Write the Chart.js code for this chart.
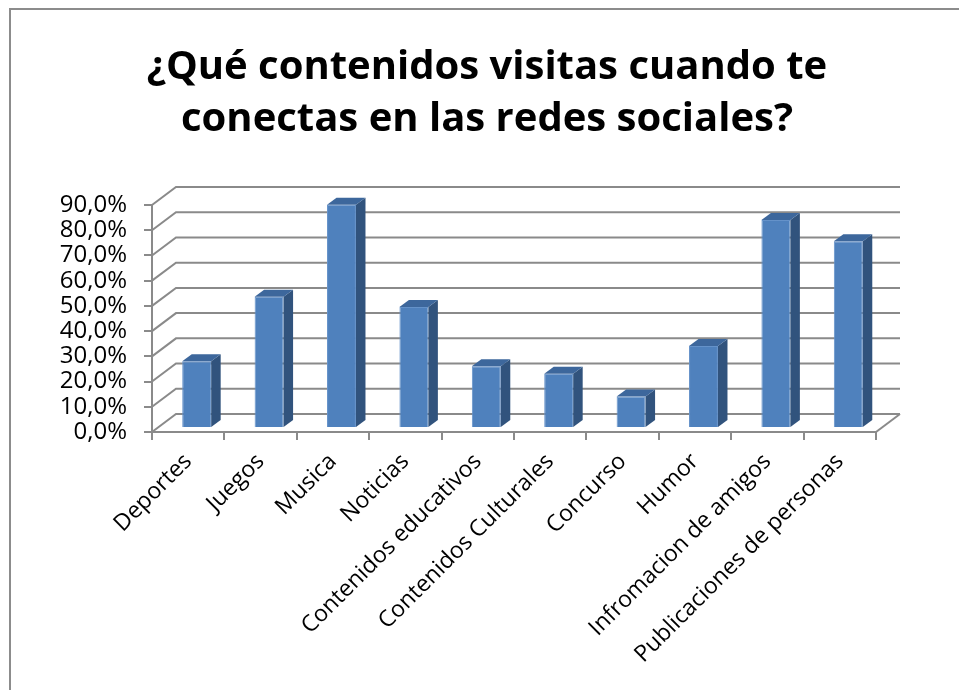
<!DOCTYPE html>
<html>
<head>
<meta charset="utf-8">
<title>Contenidos en redes sociales</title>
<script src="https://cdn.jsdelivr.net/npm/chart.js@4.4.0/dist/chart.umd.min.js"></script>
<style>
    html, body { margin: 0; padding: 0; background: #fff; }
    #wrap { width: 959px; height: 690px; }
</style>
</head>
<body>
<div id="wrap"><canvas id="chart" width="959" height="690"></canvas></div>
<script>
const titleLines = ['¿Qué contenidos visitas cuando te', 'conectas en las redes sociales?'];
const categories = ['Deportes', 'Juegos', 'Musica', 'Noticias', 'Contenidos educativos',
    'Contenidos Culturales', 'Concurso', 'Humor', 'Infromacion de amigos', 'Publicaciones de personas'];
const percentages = [26.5, 52, 88.5, 48, 24.5, 21.5, 12.5, 32.5, 82.5, 74];
const yTicks = [0, 10, 20, 30, 40, 50, 60, 70, 80, 90];

// look of the excel-like 3d frame
const GRID = '#8a8a8a';
const FRONT = '#4f81bd';
const SIDE = '#31537d';
const TOP = '#3d679c';
const WALL_DX = 24, WALL_DY = -18;
const BAR_DX = 9.5, BAR_DY = -7;
const SHIFT_X = 8.5, SHIFT_Y = -4;

const frame3d = {
    id: 'frame3d',
    beforeDraw(chart) {
        const ctx = chart.ctx;
        ctx.save();
        ctx.fillStyle = '#fff';
        ctx.fillRect(0, 0, chart.width, chart.height);
        ctx.strokeStyle = '#8c8c8c';
        ctx.lineWidth = 2;
        ctx.beginPath();
        ctx.moveTo(10, chart.height);
        ctx.lineTo(10, 9);
        ctx.lineTo(chart.width, 9);
        ctx.stroke();
        ctx.restore();
    },
    beforeDatasetsDraw(chart) {
        const {ctx, chartArea: a, scales: {y}} = chart;
        ctx.save();
        ctx.strokeStyle = GRID;
        ctx.lineWidth = 2;
        // side wall + back wall lines
        y.ticks.forEach(t => {
            const py = y.getPixelForValue(t.value);
            ctx.beginPath();
            ctx.moveTo(a.left, py);
            ctx.lineTo(a.left + WALL_DX, py + WALL_DY);
            ctx.lineTo(a.right + WALL_DX, py + WALL_DY);
            ctx.stroke();
        });
        // right edge of the floor
        ctx.beginPath();
        ctx.moveTo(a.right, a.bottom);
        ctx.lineTo(a.right + WALL_DX, a.bottom + WALL_DY);
        ctx.stroke();
        ctx.restore();

        // bars sit a little inside the box
        ctx.save();
        ctx.translate(SHIFT_X, SHIFT_Y);
    },
    afterDatasetsDraw(chart) {
        const ctx = chart.ctx;
        ctx.restore();
        ctx.save();
        chart.getDatasetMeta(0).data.forEach(bar => {
            const {x, y, base, width} = bar.getProps(['x', 'y', 'base', 'width'], true);
            const l = x - width / 2 + SHIFT_X;
            const r = x + width / 2 + SHIFT_X;
            const t = y + SHIFT_Y;
            const b = base + SHIFT_Y;

            ctx.fillStyle = SIDE;
            ctx.beginPath();
            ctx.moveTo(r, t);
            ctx.lineTo(r + BAR_DX, t + BAR_DY);
            ctx.lineTo(r + BAR_DX, b + BAR_DY);
            ctx.lineTo(r, b);
            ctx.closePath();
            ctx.fill();

            ctx.fillStyle = TOP;
            ctx.beginPath();
            ctx.moveTo(l, t);
            ctx.lineTo(l + BAR_DX, t + BAR_DY);
            ctx.lineTo(r + BAR_DX, t + BAR_DY);
            ctx.lineTo(r, t);
            ctx.closePath();
            ctx.fill();
        });
        ctx.restore();
    }
};

new Chart(document.getElementById('chart'), {
    type: 'bar',
    data: {
        labels: categories,
        datasets: [{
            data: percentages,
            backgroundColor: FRONT,
            borderColor: '#6592c9',
            borderWidth: 1,
            categoryPercentage: 1,
            barPercentage: 0.4
        }]
    },
    options: {
        responsive: false,
        animation: false,
        layout: {padding: {left: 15, right: 0, top: 0, bottom: 0}},
        plugins: {
            legend: {display: false},
            tooltip: {enabled: false},
            title: {
                display: true,
                text: titleLines,
                color: '#000',
                font: {family: 'Open Sans', size: 40, weight: 'bold', lineHeight: 1.3},
                padding: {top: 42, bottom: 59}
            }
        },
        scales: {
            x: {
                grid: {drawOnChartArea: false, tickLength: 8, color: GRID, lineWidth: 2, offset: true},
                border: {color: GRID, width: 2},
                ticks: {
                    color: '#000',
                    font: {family: 'Open Sans', size: 23},
                    minRotation: 45,
                    maxRotation: 45,
                    autoSkip: false,
                    padding: 8
                },
                afterFit(axis) {
                    axis.height = 258;
                }
            },
            y: {
                min: 0,
                max: 90,
                afterBuildTicks(axis) {
                    axis.ticks = yTicks.map(v => ({value: v}));
                },
                grid: {drawOnChartArea: false, tickLength: 8, color: GRID, lineWidth: 2},
                border: {color: GRID, width: 2},
                ticks: {
                    color: '#000',
                    font: {family: 'Open Sans', size: 24},
                    padding: 17,
                    autoSkip: false,
                    callback: v => v.toFixed(1).replace('.', ',') + '%'
                },
                afterFit(axis) {
                    axis.width = 137;
                }
            },
            // empty axis on the right, only keeps room for the back wall
            yRight: {
                position: 'right',
                min: 0,
                max: 90,
                grid: {display: false},
                border: {display: false},
                ticks: {display: false},
                afterFit(axis) {
                    axis.width = 83;
                }
            }
        }
    },
    plugins: [frame3d]
});
</script>
</body>
</html>
